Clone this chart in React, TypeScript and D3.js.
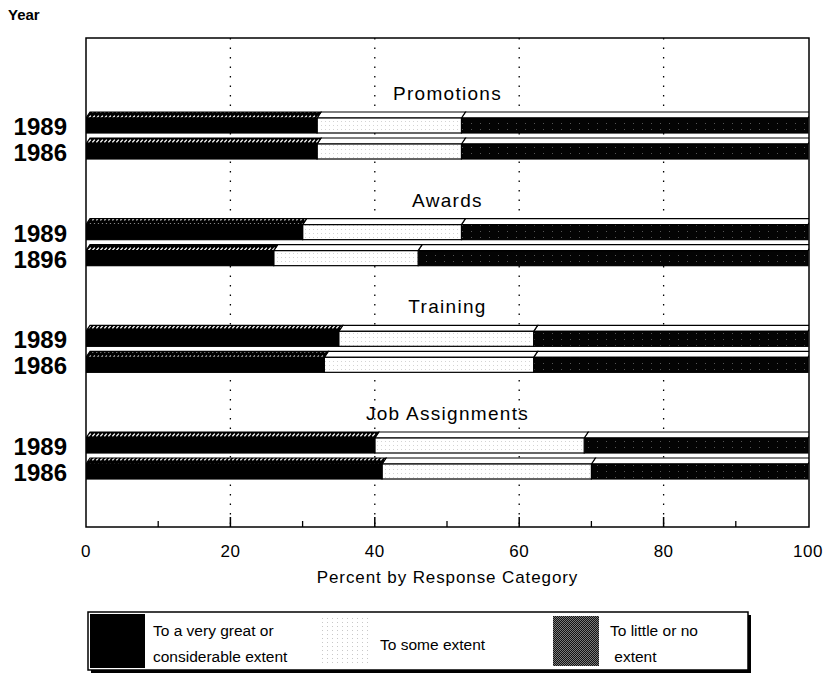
import React from "react";
import * as d3 from "d3";

// Response shares (percent) per program area and survey year
const groups = ["Promotions", "Awards", "Training", "Job Assignments"];
const yearLabels = [
  ["1989", "1986"],
  ["1989", "1896"],
  ["1989", "1986"],
  ["1989", "1986"],
];
const veryGreat = [
  [32, 32],
  [30, 26],
  [35, 33],
  [40, 41],
];
const someExtent = [
  [20, 20],
  [22, 20],
  [27, 29],
  [29, 29],
];
const littleOrNone = [
  [48, 48],
  [48, 54],
  [38, 38],
  [31, 30],
];
const xTicks = [0, 20, 40, 60, 80, 100];
const minorTicks = [10, 30, 50, 70, 90];
const gridTicks = [20, 40, 60, 80];
const legendItems = ["To a very great or|considerable extent", "To some extent", "To little or no| extent"];

const W = 824;
const H = 676;
const FONT = "'Liberation Sans', Arial, Helvetica, sans-serif";

const plot = { left: 86, right: 809, top: 38, bottom: 527 };
const x = d3.scaleLinear().domain([0, 100]).range([86, 808]);
const groupY = d3.scaleLinear().domain([0, groups.length - 1]).range([136, 456]);

const TOP = 6; // depth face height
const FRONT = 15; // front face height
const DX = 4; // depth offset

function Segment({ x0, x1, top, kind }: { x0: number; x1: number; top: number; kind: number }) {
  const topFace = `M${x0},${top + TOP} L${x0 + DX},${top} L${x1 + DX},${top} L${x1},${top + TOP} Z`;
  const topFill = kind === 0 ? "url(#topHatch)" : "#fff";
  const frontFill = kind === 0 ? "#000" : kind === 1 ? "url(#lightStip)" : "url(#darkStip)";
  return (
    <g>
      <path d={topFace} fill={topFill} stroke="#000" strokeWidth={1.2} />
      <rect x={x0} y={top + TOP} width={x1 - x0} height={FRONT} fill={frontFill} stroke="#000" strokeWidth={1.2} />
    </g>
  );
}

export default function App() {
  const bars: React.ReactNode[] = [];
  groups.forEach((g, gi) => {
    const cy = groupY(gi);
    [0, 1].forEach((yi) => {
      const top = yi === 0 ? cy - 24 : cy + 2;
      const a = veryGreat[gi][yi];
      const b = a + someExtent[gi][yi];
      const c = b + littleOrNone[gi][yi];
      bars.push(
        <g key={`${gi}-${yi}`}>
          <Segment x0={x(b)} x1={x(c)} top={top} kind={2} />
          <Segment x0={x(a)} x1={x(b)} top={top} kind={1} />
          <Segment x0={x(0)} x1={x(a)} top={top} kind={0} />
        </g>
      );
    });
  });

  return (
    <svg
      width={W}
      height={H}
      viewBox={`0 0 ${W} ${H}`}
      style={{ position: "absolute", left: 0, top: 0, display: "block", background: "#fff" }}
      fontFamily={FONT}
    >
      <defs>
        <pattern id="topHatch" width="4" height="6" patternUnits="userSpaceOnUse">
          <rect width="4" height="6" fill="#000" />
          <path d="M0.4,4.4 L2.8,1.6" stroke="#fff" strokeWidth="1.3" />
        </pattern>
        <pattern id="lightStip" width="4" height="4" patternUnits="userSpaceOnUse">
          <rect width="4" height="4" fill="#fff" />
          <rect x="1" y="1" width="1" height="1" fill="#d4d4d4" />
        </pattern>
        <pattern id="darkStip" width="9" height="6" patternUnits="userSpaceOnUse">
          <rect width="9" height="6" fill="#040404" />
          <rect x="3" y="3" width="1" height="1" fill="#555" />
        </pattern>
        <pattern id="legendDark" width="2" height="2" patternUnits="userSpaceOnUse">
          <rect width="2" height="2" fill="#111" />
          <rect x="0" y="0" width="1" height="1" fill="#7a7a7a" />
          <rect x="1" y="1" width="1" height="1" fill="#7a7a7a" />
        </pattern>
        <pattern id="legendLight" width="5" height="4" patternUnits="userSpaceOnUse">
          <rect width="5" height="4" fill="#fff" />
          <rect x="2" y="2" width="1" height="1" fill="#c8c8c8" />
        </pattern>
        <clipPath id="plotClip">
          <rect x={plot.left} y={plot.top} width={plot.right - plot.left} height={plot.bottom - plot.top} />
        </clipPath>
      </defs>

      <text x={8} y={20} fontSize={15} fontWeight="bold">Year</text>

      {/* dotted vertical gridlines */}
      {gridTicks.map((t) => (
        <line key={t} x1={x(t)} x2={x(t)} y1={plot.top} y2={plot.bottom} stroke="#000" strokeWidth={1.3} strokeDasharray="1.5 8" />
      ))}

      {/* group titles */}
      {groups.map((g, gi) => (
        <text key={g} x={(plot.left + plot.right) / 2} y={groupY(gi) - 36} fontSize={19} letterSpacing={1.3} textAnchor="middle">
          {g}
        </text>
      ))}

      <g clipPath="url(#plotClip)">{bars}</g>

      {/* year labels */}
      {groups.map((g, gi) =>
        [0, 1].map((yi) => {
          const top = yi === 0 ? groupY(gi) - 24 : groupY(gi) + 2;
          return (
            <text key={`${g}-${yi}`} x={67} y={top + 23} fontSize={24} fontWeight="bold" textAnchor="end">
              {yearLabels[gi][yi]}
            </text>
          );
        })
      )}

      {/* frame */}
      <rect x={plot.left} y={plot.top} width={plot.right - plot.left} height={plot.bottom - plot.top} fill="none" stroke="#000" strokeWidth={1.5} />

      {/* ticks */}
      {gridTicks.map((t) => (
        <line key={`mj${t}`} x1={x(t)} x2={x(t)} y1={plot.bottom} y2={plot.bottom - 10} stroke="#000" strokeWidth={1.5} />
      ))}
      {minorTicks.map((t) => (
        <line key={`mn${t}`} x1={x(t)} x2={x(t)} y1={plot.bottom} y2={plot.bottom - 6} stroke="#000" strokeWidth={1.3} />
      ))}
      {xTicks.map((t) => (
        <text key={`tl${t}`} x={x(t)} y={557} fontSize={17} letterSpacing={0.5} textAnchor="middle">
          {t}
        </text>
      ))}
      <text x={(plot.left + plot.right) / 2} y={583} fontSize={17} letterSpacing={0.9} textAnchor="middle">
        Percent by Response Category
      </text>

      {/* legend */}
      <g>
        <rect x={91} y={615} width={660} height={58} fill="#000" />
        <rect x={88} y={612} width={660} height={58} fill="#fff" stroke="#000" strokeWidth={1.5} />
        <rect x={90} y={614} width={55} height={54} fill="#000" />
        <rect x={322} y={618} width={50} height={48} fill="url(#legendLight)" />
        <rect x={553} y={616} width={46} height={50} fill="url(#legendDark)" />
        {[
          { x: 153, lines: legendItems[0].split("|"), y0: 636 },
          { x: 380, lines: legendItems[1].split("|"), y0: 650 },
          { x: 610, lines: legendItems[2].split("|"), y0: 636 },
        ].map((it, i) => (
          <text key={i} fontSize={15.5}>
            {it.lines.map((l, li) => (
              <tspan key={li} x={it.x} y={it.y0 + li * 26} style={{ whiteSpace: "pre" }}>
                {l}
              </tspan>
            ))}
          </text>
        ))}
      </g>
    </svg>
  );
}
